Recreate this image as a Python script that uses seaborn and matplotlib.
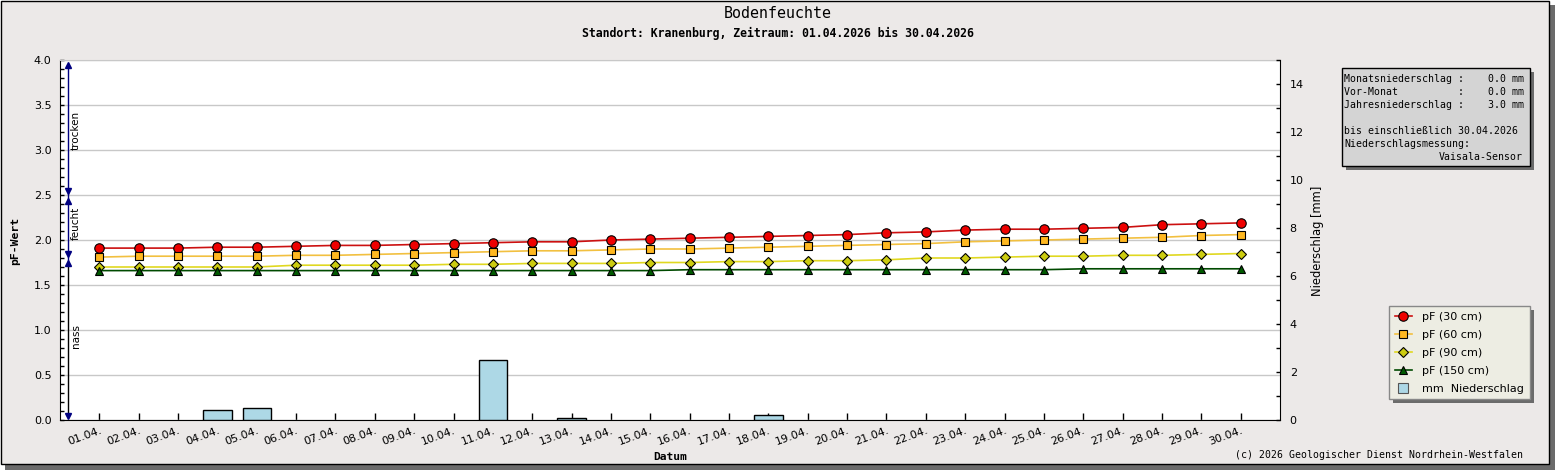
import matplotlib
matplotlib.use("Agg")
import numpy as np
import pandas as pd
import matplotlib.pyplot as plt
import matplotlib.transforms as mtransforms
import seaborn as sns
from matplotlib.patches import Rectangle
from matplotlib.lines import Line2D
from matplotlib.ticker import MultipleLocator, FormatStrFormatter

# ---------------- data ----------------
days = list(range(1, 31))
day_labels = ["01.04.", "02.04.", "03.04.", "04.04.", "05.04.", "06.04.", "07.04.", "08.04.",
              "09.04.", "10.04.", "11.04.", "12.04.", "13.04.", "14.04.", "15.04.", "16.04.",
              "17.04.", "18.04.", "19.04.", "20.04.", "21.04.", "22.04.", "23.04.", "24.04.",
              "25.04.", "26.04.", "27.04.", "28.04.", "29.04.", "30.04."]
pf_30 = [1.91, 1.91, 1.91, 1.92, 1.92, 1.93, 1.94, 1.94, 1.95, 1.96, 1.97, 1.98, 1.98, 2.00, 2.01,
         2.02, 2.03, 2.04, 2.05, 2.06, 2.08, 2.09, 2.11, 2.12, 2.12, 2.13, 2.14, 2.17, 2.18, 2.19]
pf_60 = [1.81, 1.82, 1.82, 1.82, 1.82, 1.83, 1.83, 1.84, 1.85, 1.86, 1.87, 1.88, 1.88, 1.89, 1.90,
         1.90, 1.91, 1.92, 1.93, 1.94, 1.95, 1.96, 1.98, 1.99, 2.00, 2.01, 2.02, 2.03, 2.05, 2.06]
pf_90 = [1.70, 1.70, 1.70, 1.70, 1.70, 1.72, 1.72, 1.72, 1.72, 1.73, 1.73, 1.74, 1.74, 1.74, 1.75,
         1.75, 1.76, 1.76, 1.77, 1.77, 1.78, 1.80, 1.80, 1.81, 1.82, 1.82, 1.83, 1.83, 1.84, 1.85]
pf_150 = [1.66, 1.66, 1.66, 1.66, 1.66, 1.66, 1.66, 1.66, 1.66, 1.66, 1.66, 1.66, 1.66, 1.66, 1.66,
          1.67, 1.67, 1.67, 1.67, 1.67, 1.67, 1.67, 1.67, 1.67, 1.67, 1.68, 1.68, 1.68, 1.68, 1.68]
precip_mm = [0, 0, 0, 0.4, 0.5, 0, 0, 0, 0, 0, 2.5, 0, 0.1, 0, 0, 0, 0, 0.2, 0, 0,
             0, 0, 0, 0, 0, 0, 0, 0, 0, 0]
series_labels = ["pF (30 cm)", "pF (60 cm)", "pF (90 cm)", "pF (150 cm)"]
precip_label = "mm  Niederschlag"
info_lines = ["Monatsniederschlag :    0.0 mm",
              "Vor-Monat          :    0.0 mm",
              "Jahresniederschlag :    3.0 mm",
              "bis einschließlich 30.04.2026",
              "Niederschlagsmessung:",
              "Vaisala-Sensor"]
title = "Bodenfeuchte"
subtitle = "Standort: Kranenburg, Zeitraum: 01.04.2026 bis 30.04.2026"
footer = "(c) 2026 Geologischer Dienst Nordrhein-Westfalen"
zone_labels = ["trocken", "feucht", "nass"]

# ---------------- styles ----------------
W, H = 1555, 470
BG = "#ECE9E8"
MONO = "DejaVu Sans Mono"
SANS = "DejaVu Sans"
line_colors = ["#cc1010", "#f2c040", "#e0d820", "#004a00"]
face_colors = ["#ee0000", "#ffb820", "#cccc10", "#005a00"]
markers = ["o", "s", "D", "^"]
msizes = [6.8, 5.6, 5.4, 6.0]
bar_color = "#ADD8E6"


def fx(x):
    return x / W


def fy(y):
    return 1 - y / H


fig = plt.figure(figsize=(W / 100, H / 100), dpi=100)
fig.patch.set_facecolor("white")

# frame + shadow
fig.patches.append(Rectangle((fx(5), 0), (W - 5) / W, (H - 5) / H, transform=fig.transFigure,
                             facecolor="#6b6b6b", edgecolor="none", zorder=-3))
fig.patches.append(Rectangle((fx(0.5), fy(464)), 1548 / W, 463.5 / H, transform=fig.transFigure,
                             facecolor=BG, edgecolor="black", lw=1, zorder=-2))

ax = fig.add_axes([fx(60), fy(420), (1280 - 60) / W, (420 - 60) / H])
ax.set_facecolor("white")
ax2 = ax.twinx()

# bars (precipitation)
sns.barplot(x=days, y=precip_mm, ax=ax2, native_scale=True, orient="x", color=bar_color,
            saturation=1, edgecolor="black", linewidth=1, width=0.72, errorbar=None, zorder=2)
for p in ax2.patches:
    if p.get_height() == 0:
        p.set_visible(False)

# lines
df = pd.DataFrame({"day": days, "p30": pf_30, "p60": pf_60, "p90": pf_90, "p150": pf_150})
for col, lc, fc, mk, ms in zip(["p30", "p60", "p90", "p150"], line_colors, face_colors, markers, msizes):
    sns.lineplot(data=df, x="day", y=col, ax=ax, color=lc, marker=mk, markersize=ms,
                 markerfacecolor=fc, markeredgecolor="black", markeredgewidth=0.8,
                 linewidth=1.2, zorder=3)

# axes setup
ax.set_xlim(0, 31)
ax.set_ylim(0, 4)
ax2.set_ylim(0, 15)
ax.set_xticks(days)
ax.set_xticklabels(day_labels, rotation=20, ha="right", va="top", rotation_mode="anchor",
                   fontsize=8, family=SANS)
ax.yaxis.set_major_locator(MultipleLocator(0.5))
ax.yaxis.set_minor_locator(MultipleLocator(0.1))
ax.yaxis.set_major_formatter(FormatStrFormatter("%.1f"))
ax2.yaxis.set_major_locator(MultipleLocator(2))
ax2.yaxis.set_minor_locator(MultipleLocator(1))
ax.grid(axis="y", which="major", color="#c8c8c8", lw=1)
ax.set_axisbelow(True)
ax.tick_params(axis="x", direction="in", length=5, width=1, pad=4, colors="black")
ax.tick_params(axis="y", which="both", direction="in", length=3, width=1, pad=6, labelsize=8)
ax2.tick_params(axis="y", which="both", direction="in", length=3, width=1, pad=7, labelsize=8)
ax.set_xlabel("")
ax.set_ylabel("")
ax2.set_ylabel("")
ax.spines["top"].set_color("#c8c8c8")
ax.spines["right"].set_visible(False)
for s in ["top", "left", "bottom"]:
    ax2.spines[s].set_visible(False)
ax2.spines["right"].set_color("black")

# zone arrows on left
trans = mtransforms.blended_transform_factory(ax.transAxes, ax.transData)
xa = (68 - 60) / 1220
ax.plot([xa, xa], [3.95, 1.74], color="#000080", lw=1, transform=trans, clip_on=False, zorder=4)
ax.plot([xa, xa], [1.74, 0.03], color="black", lw=1, transform=trans, clip_on=False, zorder=4)
ax.plot([xa] * 3, [3.94, 2.43, 1.74], ls="none", marker="^", ms=4.2, color="#000080",
        transform=trans, clip_on=False, zorder=5)
ax.plot([xa] * 3, [2.55, 1.85, 0.04], ls="none", marker="v", ms=4.2, color="#000080",
        transform=trans, clip_on=False, zorder=5)
xt = (76 - 60) / 1220
for lab, yv in zip(zone_labels, [3.22, 2.19, 0.93]):
    ax.text(xt, yv, lab, rotation=90, ha="center", va="center", fontsize=7.5,
            family=SANS, transform=trans)

# titles and labels
fig.text(fx(777.5), fy(14), title, ha="center", va="center", family=MONO, fontsize=10.8)
fig.text(fx(778), fy(33), subtitle, ha="center", va="center", family=MONO, fontsize=8.3,
         fontweight="bold")
fig.text(fx(670), fy(457), "Datum", ha="center", va="center", family=MONO, fontsize=8.1,
         fontweight="bold")
fig.text(fx(15), fy(241), "pF-Wert", ha="center", va="center", rotation=90, family=MONO,
         fontsize=8.2, fontweight="bold")
fig.text(fx(1318), fy(241), "Niederschlag [mm]", ha="center", va="center", rotation=90,
         family=SANS, fontsize=8.3)
fig.text(fx(1523), fy(455), footer, ha="right", va="center", family=MONO, fontsize=7.15)

# info box
fig.patches.append(Rectangle((fx(1346), fy(170)), (1534 - 1346) / W, (170 - 72) / H,
                             transform=fig.transFigure, facecolor="#6b6b6b", edgecolor="none", zorder=1))
fig.patches.append(Rectangle((fx(1342), fy(166)), (1530 - 1342) / W, (166 - 68) / H,
                             transform=fig.transFigure, facecolor="#d4d4d4", edgecolor="black",
                             lw=1, zorder=2))
info_y = [79.3, 92.3, 105.0, 131.0, 144.0, 157.0]
for i, (txt, yy) in enumerate(zip(info_lines, info_y)):
    if i == len(info_lines) - 1:
        fig.text(fx(1523), fy(yy), txt, ha="right", va="center", family=MONO, fontsize=7.15, zorder=3)
    else:
        fig.text(fx(1344), fy(yy), txt, ha="left", va="center", family=MONO, fontsize=7.15, zorder=3)

# legend
handles = []
for lc, fc, mk, ms in zip(line_colors, face_colors, markers, msizes):
    handles.append(Line2D([], [], color=lc, marker=mk, markersize=ms, markerfacecolor=fc,
                          markeredgecolor="black", markeredgewidth=0.8, lw=1.2))
handles.append(Line2D([], [], ls="none", marker="s", markersize=7.5, markerfacecolor=bar_color,
                      markeredgecolor="#555555", markeredgewidth=0.8))
leg = fig.legend(handles, series_labels + [precip_label], loc="upper left",
                 bbox_to_anchor=(fx(1389), fy(306)), bbox_transform=fig.transFigure,
                 borderaxespad=0, frameon=True, fancybox=False, framealpha=1,
                 facecolor="#EDEDE3", edgecolor="#888888", fontsize=8,
                 handlelength=1.6, handletextpad=0.9, labelspacing=0.72, borderpad=0.5)
leg.get_frame().set_linewidth(1)
leg.set_zorder(6)

fig.canvas.draw()
bb = leg.get_window_extent()
inv = fig.transFigure.inverted()
(x0, y0), (x1, y1) = inv.transform([[bb.x0 + 4, bb.y0 - 4], [bb.x1 + 4, bb.y1 - 4]])
fig.patches.append(Rectangle((x0, y0), x1 - x0, y1 - y0, transform=fig.transFigure,
                             facecolor="#6b6b6b", edgecolor="none", zorder=5))

fig.savefig("out.png", dpi=100)
